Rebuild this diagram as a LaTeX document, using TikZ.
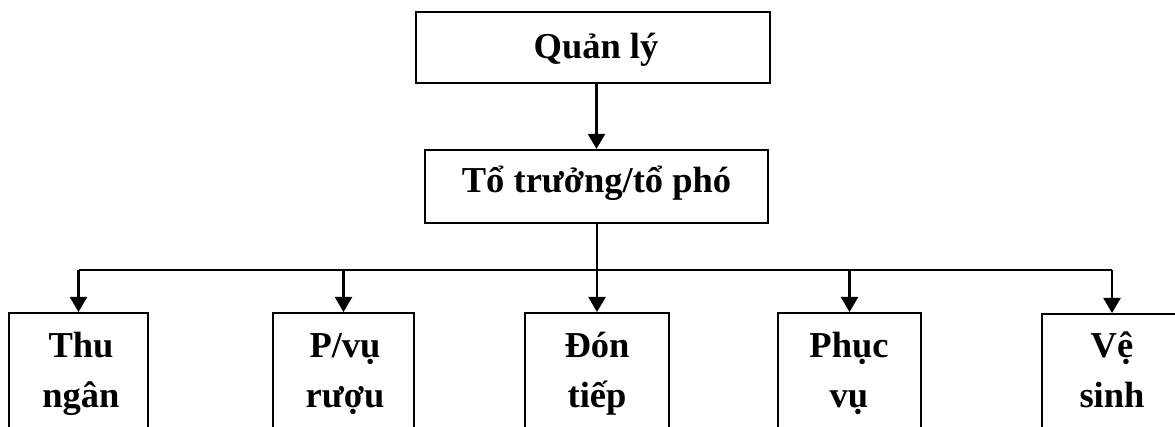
\documentclass[tikz,border=0pt]{standalone}
\usepackage{fontspec}
\setmainfont{Liberation Serif}
\usetikzlibrary{arrows.meta,calc}
\tikzset{
  box/.style={draw=black, line width=2.2pt, inner sep=0pt},
  lbl/.style={font=\bfseries\fontsize{36.5}{50}\selectfont, inner sep=0pt, align=center},
  conn/.style={line width=2.2pt},
  arr/.style={line width=2.2pt, -{Triangle[length=15pt,width=17pt]}}
}
\begin{document}
\begin{tikzpicture}[x=1pt,y=-1pt]
\useasboundingbox (0,0) rectangle (1175,427);
\clip (0,0) rectangle (1175,427);
% top boxes
\node[box, minimum width=354pt, minimum height=71pt] (ql) at (593,47.5) {};
\node[lbl, anchor=base] (qlt) at (596,59) {Quản lý};
\node[box, minimum width=343pt, minimum height=73pt] (tt) at (596.5,186.5) {};
\node[lbl, anchor=base] (ttt) at (596.5,193) {Tổ trưởng/tổ phó};
% bottom boxes
\node[box, anchor=north, minimum width=139pt, minimum height=170pt] (thu) at (78.5,312) {};
\node[box, anchor=north, minimum width=141pt, minimum height=170pt] (pv) at (343.5,312) {};
\node[box, anchor=north, minimum width=144pt, minimum height=170pt] (dt) at (597,312) {};
\node[box, anchor=north, minimum width=143pt, minimum height=170pt] (phv) at (849.5,312) {};
\node[box, anchor=north, minimum width=140pt, minimum height=170pt] (vs) at (1112,313) {};
\node[lbl, anchor=base] (thut) at (81,407) {Thu\\ngân};
\node[lbl, anchor=base] (pvt) at (345,407) {P/vụ\\rượu};
\node[lbl, anchor=base] (dtt) at (597,407) {Đón\\tiếp};
\node[lbl, anchor=base] (phvt) at (849,407) {Phục\\vụ};
\node[lbl, anchor=base] (vst) at (1112,407) {Vệ\\sinh};
% connectors
\coordinate (bar) at (0,270);
\draw[arr] (ql.south -| tt.north) -- (tt.north);
\draw[arr] (tt.south -| dt.north) -- (dt.north);
\draw[conn] (thu.north |- bar) -- (vs.north |- bar);
\draw[arr] (thu.north |- bar) -- (thu.north);
\draw[arr] (pv.north |- bar) -- (pv.north);
\draw[arr] (phv.north |- bar) -- (phv.north);
\draw[arr] (vs.north |- bar) -- (vs.north);
\end{tikzpicture}
\end{document}
